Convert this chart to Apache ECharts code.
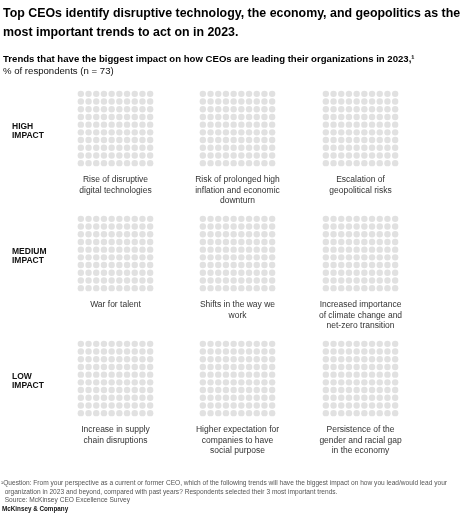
<!DOCTYPE html>
<html>
<head>
<meta charset="utf-8">
<script src="https://cdn.jsdelivr.net/npm/echarts@6/dist/echarts.min.js"></script>
<style>
  html, body { margin: 0; padding: 0; background: #fff; }
  #chart { width: 474px; height: 529px; }
</style>
</head>
<body>
<div id="chart"></div>
<script>
const impactLevels = ['HIGH\nIMPACT', 'MEDIUM\nIMPACT', 'LOW\nIMPACT']
const trends = [
  ['Rise of disruptive\ndigital technologies', 'Risk of prolonged high\ninflation and economic\ndownturn', 'Escalation of\ngeopolitical risks'],
  ['War for talent', 'Shifts in the way we\nwork', 'Increased importance\nof climate change and\nnet-zero transition'],
  ['Increase in supply\nchain disruptions', 'Higher expectation for\ncompanies to have\nsocial purpose', 'Persistence of the\ngender and racial gap\nin the economy'],
]
const gridCols = 10
const gridRows = 10

const font = '"Liberation Sans", Arial, sans-serif'
const dotColor = '#d9d9d9'
const panelLeft = [77, 199, 322]
const panelTop = [90, 215, 340]
const panelSize = 77

// one dot per cell of the 10x10 waffle
const dots = []
for (let r = 0; r < gridRows; r++) {
  for (let c = 0; c < gridCols; c++) dots.push([c, r])
}

const grids = [], xAxes = [], yAxes = [], series = [], graphics = []
trends.forEach((row, ri) => {
  row.forEach((label, ci) => {
    const idx = grids.length
    grids.push({ left: panelLeft[ci], top: panelTop[ri], width: panelSize, height: panelSize })
    xAxes.push({ gridIndex: idx, type: 'value', min: -0.5, max: gridCols - 0.5, show: false })
    yAxes.push({ gridIndex: idx, type: 'value', min: -0.5, max: gridRows - 0.5, inverse: true, show: false })
    series.push({
      type: 'scatter', xAxisIndex: idx, yAxisIndex: idx,
      symbolSize: 6.4, silent: true, animation: false,
      itemStyle: { color: dotColor },
      data: dots,
    })
    graphics.push({
      type: 'text',
      style: {
        text: label, x: panelLeft[ci] + panelSize / 2, y: panelTop[ri] + panelSize + 8,
        font: '8.5px ' + font, fill: '#333', textAlign: 'center', textVerticalAlign: 'top', lineHeight: 10.2,
      },
    })
  })
  graphics.push({
    type: 'text', left: 12, top: panelTop[ri] + panelSize / 2 - 7,
    style: { text: impactLevels[ri], font: 'bold 8.5px ' + font, fill: '#111', lineHeight: 9.5 },
  })
})

graphics.push(
  {
    type: 'text', left: 3, top: 4,
    style: {
      text: 'Top CEOs identify disruptive technology, the economy, and geopolitics as the\nmost important trends to act on in 2023.',
      font: 'bold 12.4px ' + font, fill: '#000', lineHeight: 19,
    },
  },
  {
    type: 'text', left: 3, top: 54,
    style: {
      text: 'Trends that have the biggest impact on how CEOs are leading their organizations in 2023,¹',
      font: 'bold 9.6px ' + font, fill: '#000',
    },
  },
  {
    type: 'text', left: 3, top: 66,
    style: { text: '% of respondents (n = 73)', font: '9.6px ' + font, fill: '#111' },
  },
  {
    type: 'text', left: 1, top: 479,
    style: {
      text: '¹Question: From your perspective as a current or former CEO, which of the following trends will have the biggest impact on how you lead/would lead your\n  organization in 2023 and beyond, compared with past years? Respondents selected their 3 most important trends.\n  Source: McKinsey CEO Excellence Survey',
      font: '6.6px ' + font, fill: '#555', lineHeight: 8.5,
    },
  },
  {
    type: 'text', left: 2, top: 506,
    style: { text: 'McKinsey & Company', font: 'bold 6.3px ' + font, fill: '#111' },
  }
)

const chart = echarts.init(document.getElementById('chart'), null, { renderer: 'canvas' })
chart.setOption({
  backgroundColor: '#fff',
  animation: false,
  grid: grids,
  xAxis: xAxes,
  yAxis: yAxes,
  series: series,
  graphic: graphics,
})
</script>
</body>
</html>
